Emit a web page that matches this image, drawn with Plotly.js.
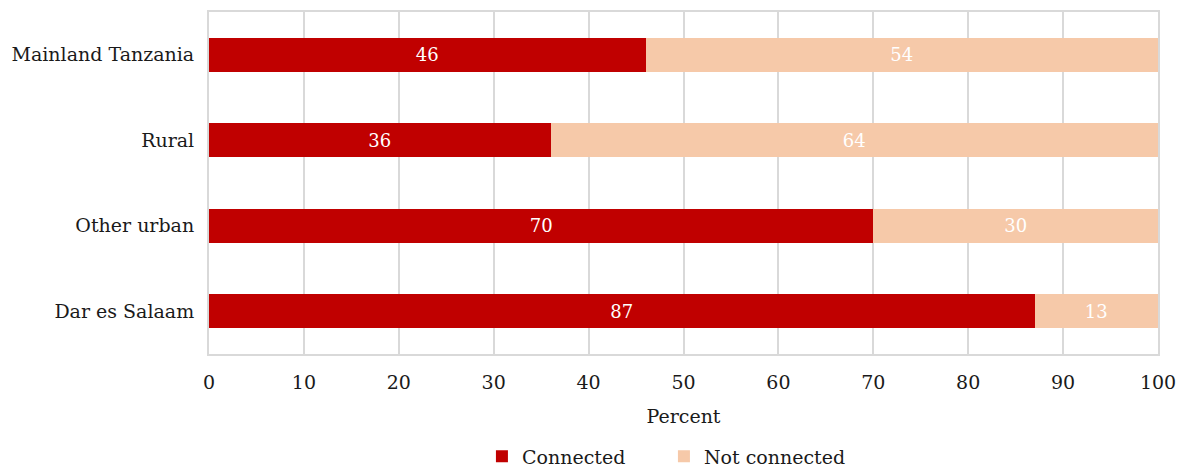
<!DOCTYPE html>
<html>
<head>
<meta charset="utf-8">
<script src="https://cdn.plot.ly/plotly-3.0.1.min.js"></script>
<style>html,body{margin:0;padding:0;background:#fff;}#chart{width:1182px;height:468px;}</style>
</head>
<body>
<div id="chart"></div>
<script>
const categories = ["Mainland Tanzania", "Rural", "Other urban", "Dar es Salaam"];
const connected = [46, 36, 70, 87];
const notConnected = [54, 64, 30, 13];
const seriesNames = ["Connected", "Not connected"];
const xTicks = [0, 10, 20, 30, 40, 50, 60, 70, 80, 90, 100];

const FONT = "DejaVu Serif, Liberation Serif, serif";
const traces = [
  {type:"bar", orientation:"h", name:seriesNames[0], y:categories, x:connected,
   text:connected.map(String), textposition:"inside", insidetextanchor:"middle",
   textfont:{color:"#ffffff", size:18, family:FONT}, marker:{color:"#c00000"}, hoverinfo:"x+y"},
  {type:"bar", orientation:"h", name:seriesNames[1], y:categories, x:notConnected,
   text:notConnected.map(String), textposition:"inside", insidetextanchor:"middle",
   textfont:{color:"#ffffff", size:18, family:FONT}, marker:{color:"#f6c9a9"}, hoverinfo:"x+y"}
];
const layout = {
  width:1182, height:468,
  margin:{l:209, r:24, t:12, b:114, autoexpand:false},
  barmode:"stack", bargap:0.6,
  paper_bgcolor:"#fff", plot_bgcolor:"#fff",
  font:{family:FONT, size:19, color:"#1a1a1a"},
  xaxis:{range:[0,100], tickvals:xTicks, ticktext:xTicks.map(String), showgrid:true, gridcolor:"#d9d9d9", gridwidth:2,
         showline:true, linecolor:"#d9d9d9", linewidth:2, mirror:true, zeroline:false,
         ticks:"outside", ticklen:10, tickcolor:"rgba(0,0,0,0)", automargin:false,
         tickfont:{size:19}, title:{text:"Percent", font:{size:19}, standoff:18}},
  yaxis:{autorange:"reversed", showline:true, linecolor:"#d9d9d9", linewidth:2, mirror:true, showgrid:false, automargin:false,
         ticks:"outside", ticklen:9, tickcolor:"rgba(0,0,0,0)", tickfont:{size:19}},
  legend:{orientation:"h", x:0.2876, xanchor:"left", yref:"container", y:0.025, yanchor:"middle", font:{size:19},
          traceorder:"normal", itemwidth:30, entrywidth:137},
  showlegend:true
};
Plotly.newPlot("chart", traces, layout, {displayModeBar:false, staticPlot:true});
</script>
</body>
</html>
